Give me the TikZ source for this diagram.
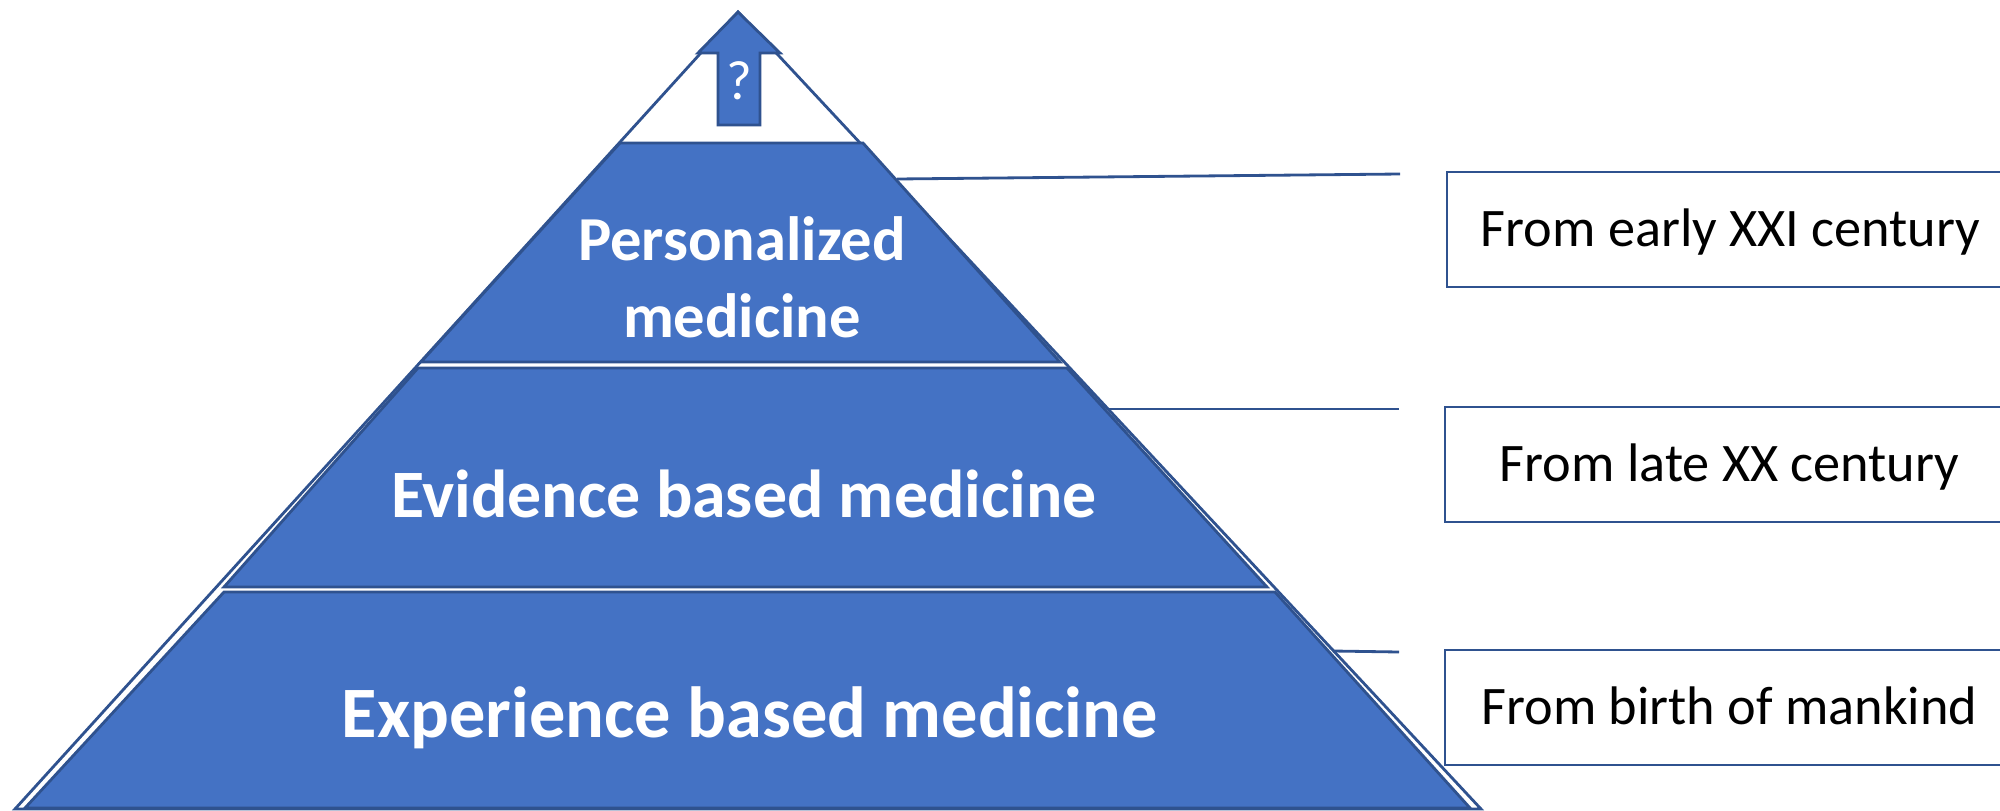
\documentclass[tikz,border=0pt]{standalone}
\usepackage{fontspec}
\setmainfont{Carlito}
\definecolor{pyrblue}{HTML}{4472C4}
\definecolor{pyrline}{HTML}{2F528F}
\tikzset{
  band/.style={fill=pyrblue, draw=pyrline, line width=0.8pt},
  bandtext/.style={text=white, align=center, inner sep=0pt},
  datebox/.style={draw=pyrline, line width=0.8pt, fill=white, minimum width=5.69cm,
    minimum height=1.15cm, inner sep=0pt, text height=0.34cm, text depth=0pt,
    font=\fontsize{15.45}{18}\selectfont},
  link/.style={draw=pyrline, line width=0.8pt}
}
\begin{document}
\begin{tikzpicture}
  \useasboundingbox (0,0) rectangle (20,8.1);
  % Pyramide, Umriss
  \draw[pyrline, line width=0.8pt, fill=white] (7.38,7.98) -- (14.81,0.01) -- (0.15,0.01) -- cycle;
  % Pyramide, Stufen
  \draw[band] (6.20,6.67) -- (8.63,6.67) -- (10.60,4.48) -- (4.21,4.48) -- cycle;
  \draw[band] (4.18,4.42) -- (10.67,4.42) -- (12.67,2.23) -- (2.24,2.23) -- cycle;
  \draw[band] (2.24,2.18) -- (12.75,2.18) -- (14.70,0.02) -- (0.25,0.02) -- cycle;
  % Pyramide, Pfeil an der Spitze
  \draw[band] (7.38,7.98) -- (7.80,7.57) -- (7.60,7.57) -- (7.60,6.85) -- (7.18,6.85)
    -- (7.18,7.57) -- (6.98,7.57) -- cycle;
  \node[text=white, inner sep=0pt, font=\fontsize{15.8}{18}\selectfont] (quest) at (7.39,7.29) {?};
  % Pyramide, Beschriftung
  \node[bandtext, font=\bfseries\fontsize{17.8}{22}\selectfont] (pers) at (7.42,5.33) {Personalized\\medicine};
  \node[bandtext, anchor=base, font=\bfseries\fontsize{19.3}{22}\selectfont] (evid) at (7.44,2.93) {Evidence based medicine};
  \node[bandtext, anchor=base, font=\bfseries\fontsize{20.6}{24}\selectfont] (expe) at (7.50,0.73) {Experience based medicine};
  % Zeitangaben
  \node[datebox, minimum width=5.67cm] (early) at (17.305,5.805) {From early XXI century};
  \node[datebox] (late) at (17.295,3.455) {From late XX century};
  \node[datebox] (birth) at (17.295,1.025) {From birth of mankind};
  % Verbindungslinien
  \coordinate (e1) at (8.97,6.31);  \coordinate (e2) at (14.00,6.36);
  \coordinate (l1) at (11.07,4.01); \coordinate (l2) at (13.99,4.01);
  \coordinate (b1) at (13.33,1.59); \coordinate (b2) at (13.99,1.58);
  \draw[link] (e1) -- (e2);
  \draw[link] (l1) -- (l2);
  \draw[link] (b1) -- (b2);
\end{tikzpicture}
\end{document}
